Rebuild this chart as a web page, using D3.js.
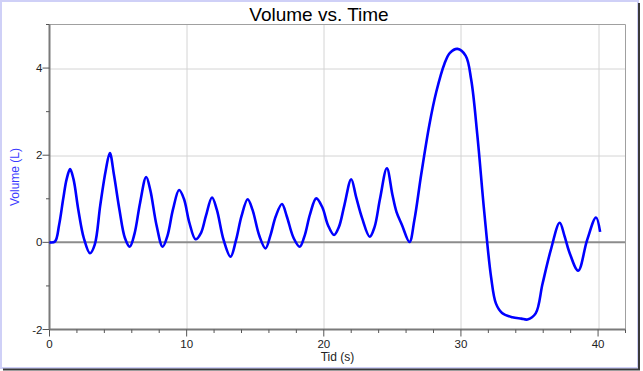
<!DOCTYPE html>
<html>
<head>
<meta charset="utf-8">
<script src="https://cdn.jsdelivr.net/npm/d3@7"></script>
<style>
  body { margin: 0; background: #fff; }
  text { font-family: "Liberation Sans", Arial, sans-serif; }
</style>
</head>
<body>
<div id="chart"></div>
<script>

// Chart data
var timeValues = [0, 0.4, 0.7, 1.0, 1.25, 1.5, 1.75, 2.1, 2.5, 2.95, 3.3, 3.7, 4.1, 4.4, 4.7, 5.1, 5.5, 5.85,
  6.2, 6.6, 7.05, 7.35, 7.8, 8.25, 8.6, 9.0, 9.45, 9.8, 10.2, 10.65, 11.05, 11.4, 11.85, 12.2, 12.7, 13.2,
  13.6, 14.0, 14.45, 14.8, 15.3, 15.75, 16.1, 16.5, 16.95, 17.3, 17.8, 18.25, 18.6, 19.0, 19.45, 19.9,
  20.3, 20.75, 21.1, 21.5, 22.0, 22.35, 22.8, 23.35, 23.7, 24.1, 24.6, 25.0, 25.3, 25.7, 26.25, 26.6, 27.1,
  27.7, 28.2, 28.8, 29.2, 29.75, 30.35, 30.75, 31.2, 31.7, 32.2, 32.55, 33.0, 33.75, 34.4, 34.85, 35.45,
  35.95, 36.55, 37.2, 37.55, 37.9, 38.55, 39.2, 39.85, 40.15];

var volumeValues = [0, 0.02, 0.4, 1.0, 1.45, 1.68, 1.45, 0.75, 0.1, -0.25, -0.05, 0.85, 1.65, 2.05, 1.55, 0.75, 0.1, -0.1,
  0.2, 0.9, 1.5, 1.2, 0.4, -0.1, 0.15, 0.75, 1.2, 1.0, 0.45, 0.07, 0.22, 0.6, 1.03, 0.75, 0.05, -0.33,
  0.05, 0.6, 0.99, 0.75, 0.15, -0.14, 0.15, 0.6, 0.88, 0.6, 0.1, -0.1, 0.15, 0.65, 1.01, 0.8,
  0.4, 0.17, 0.35, 0.85, 1.45, 1.05, 0.55, 0.13, 0.35, 1.0, 1.7, 1.1, 0.7, 0.4, 0.01, 0.5, 1.55,
  2.7, 3.45, 4.1, 4.35, 4.44, 4.28, 3.73, 2.45, 0.7, -0.8, -1.4, -1.62, -1.72, -1.75, -1.77, -1.63,
  -0.95, -0.18, 0.45, 0.15, -0.22, -0.65, 0.05, 0.57, 0.24];

var xMajorTicks = [0, 10, 20, 30, 40];
var xMinorTicks = [2, 4, 6, 8, 12, 14, 16, 18, 22, 24, 26, 28, 32, 34, 36, 38, 42];
var yMajorTicks = [-2, 0, 2, 4];
var yMinorTicks = [-1, 1, 3, 5];

var chartTitle = "Volume vs. Time";
var xLabel = "Tid (s)";
var yLabel = "Volume (L)";

//--------------------------------------------------------------------------
//
// Geometry
//

var width = 643, height = 371;
var margin = { top: 24.5, right: 17.5, bottom: 41.5, left: 49.5 };
var plotW = width - margin.left - margin.right;
var plotH = height - margin.top - margin.bottom;

var x = d3.scaleLinear().domain([0, 42]).range([0, plotW]);
var y = d3.scaleLinear().domain([-2, 5]).range([plotH, 0]);

var svg = d3.select("#chart").append("svg")
    .attr("width", width)
    .attr("height", height);

// outer border: lavender top/left, dark shadow right/bottom
svg.append("rect")
    .attr("x", 1).attr("y", 1)
    .attr("width", 637).attr("height", 367)
    .attr("fill", "#fff")
    .attr("stroke", "#cfd0f7")
    .attr("stroke-width", 2);
svg.append("path")
    .attr("d", "M639,3V369.5H3")
    .attr("fill", "none")
    .attr("stroke", "#3a3a3a")
    .attr("stroke-width", 2);

svg.append("text")
    .attr("x", 319)
    .attr("y", 21)
    .attr("text-anchor", "middle")
    .attr("font-size", "19px")
    .attr("fill", "#000")
    .text(chartTitle);

var g = svg.append("g")
    .attr("transform", "translate(" + margin.left + "," + margin.top + ")");

//--------------------------------------------------------------------------
//
// Grid and frame
//

g.selectAll(".vgrid").data(xMajorTicks.filter(function(d) { return d > 0; }))
  .enter().append("line")
    .attr("x1", function(d) { return Math.round(x(d)) + 0.5; })
    .attr("x2", function(d) { return Math.round(x(d)) + 0.5; })
    .attr("y1", 0).attr("y2", plotH)
    .attr("stroke", "#d4d4d4");

g.selectAll(".hgrid").data([2, 4])
  .enter().append("line")
    .attr("x1", 0).attr("x2", plotW)
    .attr("y1", function(d) { return Math.round(y(d)) + 0.5; })
    .attr("y2", function(d) { return Math.round(y(d)) + 0.5; })
    .attr("stroke", "#d4d4d4");

g.append("line")
    .attr("x1", 0).attr("x2", plotW)
    .attr("y1", y(0)).attr("y2", y(0))
    .attr("stroke", "#8c8c8c")
    .attr("stroke-width", 2);

g.append("path")
    .attr("d", "M0,0H" + plotW + "V" + plotH)
    .attr("fill", "none")
    .attr("stroke", "#a0a0a0");

//--------------------------------------------------------------------------
//
// Axes
//

var tickColor = "#555";

var xAxis = g.append("g").attr("transform", "translate(0," + plotH + ")");
xAxis.append("line")
    .attr("x1", 0).attr("x2", plotW)
    .attr("stroke", "#7a7a7a").attr("stroke-width", 2);
xAxis.selectAll(".xmaj").data(xMajorTicks).enter().append("line")
    .attr("x1", x).attr("x2", x)
    .attr("y1", 0).attr("y2", 7)
    .attr("stroke", tickColor);
xAxis.selectAll(".xmin").data(xMinorTicks).enter().append("line")
    .attr("x1", x).attr("x2", x)
    .attr("y1", 0).attr("y2", 3.5)
    .attr("stroke", tickColor);
xAxis.selectAll(".xlab").data(xMajorTicks).enter().append("text")
    .attr("x", x)
    .attr("y", 18.5)
    .attr("text-anchor", "middle")
    .attr("font-size", "11.5px")
    .attr("fill", "#222")
    .text(function(d) { return d; });

var yAxis = g.append("g");
yAxis.append("line")
    .attr("y1", 0).attr("y2", plotH)
    .attr("stroke", "#7a7a7a").attr("stroke-width", 2);
yAxis.selectAll(".ymaj").data(yMajorTicks).enter().append("line")
    .attr("y1", y).attr("y2", y)
    .attr("x1", -7).attr("x2", 0)
    .attr("stroke", tickColor);
yAxis.selectAll(".ymin").data(yMinorTicks).enter().append("line")
    .attr("y1", y).attr("y2", y)
    .attr("x1", -3.5).attr("x2", 0)
    .attr("stroke", tickColor);
yAxis.selectAll(".ylab").data(yMajorTicks).enter().append("text")
    .attr("x", -7)
    .attr("y", y)
    .attr("dy", "0.36em")
    .attr("text-anchor", "end")
    .attr("font-size", "11.5px")
    .attr("fill", "#222")
    .text(function(d) { return d; });

svg.append("text")
    .attr("x", margin.left + plotW / 2)
    .attr("y", 361)
    .attr("text-anchor", "middle")
    .attr("font-size", "12px")
    .attr("fill", "#222")
    .text(xLabel);

svg.append("text")
    .attr("transform", "translate(19," + (margin.top + plotH / 2) + ") rotate(-90)")
    .attr("text-anchor", "middle")
    .attr("font-size", "12px")
    .attr("fill", "#3b3bff")
    .text(yLabel);

//--------------------------------------------------------------------------
//
// Volume curve
//

var points = timeValues.map(function(t, i) { return [t, volumeValues[i]]; });

var line = d3.line()
    .x(function(d) { return x(d[0]); })
    .y(function(d) { return y(d[1]); })
    .curve(d3.curveCatmullRom.alpha(0.5));

g.append("path")
    .datum(points)
    .attr("d", line)
    .attr("fill", "none")
    .attr("stroke", "#0000ff")
    .attr("stroke-width", 2.6)
    .attr("stroke-linejoin", "round");

</script>
</body>
</html>
